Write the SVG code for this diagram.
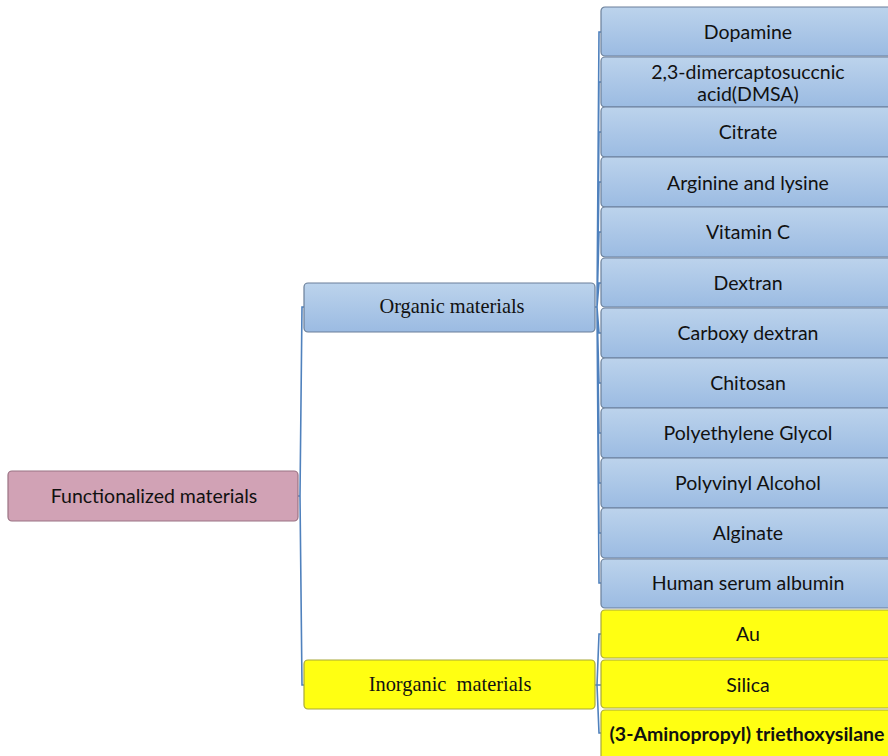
<svg xmlns="http://www.w3.org/2000/svg" width="888" height="756" viewBox="0 0 888 756">
<defs>
<linearGradient id="blue" x1="0" y1="0" x2="0" y2="1">
<stop offset="0" stop-color="#bcd3ec"/>
<stop offset="1" stop-color="#9bbbe2"/>
</linearGradient>
<style>
.b{fill:url(#blue);stroke:#6a7f99;stroke-width:1.2}
.y{fill:#ffff12;stroke:#a8a83a;stroke-width:1.2}
.r{fill:#d1a2b5;stroke:#9a7283;stroke-width:1.2}
.t{font-family:Lato,"Open Sans","Liberation Sans",sans-serif;font-size:19.5px;fill:#111;text-anchor:middle;dominant-baseline:central}
.s{font-family:"Liberation Serif","Times New Roman",serif;font-size:20.4px;fill:#111;text-anchor:middle;dominant-baseline:central}
.c{fill:none;stroke:#4f81bd;stroke-width:1.6}
</style>
</defs>
<g id="connectors">
<path class="c" d="M298,496 L300,496 L302,307 L304,307 M300,496 L302,685 L304,685"/>
<path class="c" d="M595,307 L597,307 L599,32 L601,32 M597,307 L599,82 L601,82 M597,307 L599,132 L601,132 M597,307 L599,182 L601,182 M597,307 L599,232 L601,232 M597,307 L599,283 L601,283 M597,307 L599,333 L601,333 M597,307 L599,383 L601,383 M597,307 L599,433 L601,433 M597,307 L599,483 L601,483 M597,307 L599,533 L601,533 M597,307 L599,583 L601,583"/>
<path class="c" d="M595,685 L597,685 L599,634 L601,634 M597,685 L601,685 M597,685 L599,733 L601,733"/>
</g>
<g id="root"><rect class="r" x="8" y="471" width="290" height="50" rx="4"/><text class="t" x="154" y="495">Functionalized materials</text></g>
<g id="organic"><rect class="b" x="304" y="283" width="291" height="49" rx="4"/><text class="s" x="452" y="306">Organic materials</text></g>
<g id="inorganic"><rect class="y" x="304" y="660" width="291" height="49" rx="4"/><text class="s" x="450" y="684" xml:space="preserve">Inorganic  materials</text></g>
<g id="dopamine"><rect class="b" x="601" y="7" width="292" height="49" rx="4"/><text class="t" x="748" y="31">Dopamine</text></g>
<g id="dmsa"><rect class="b" x="601" y="57" width="292" height="50" rx="4"/><text class="t" x="748" y="71">2,3-dimercaptosuccnic</text><text class="t" x="748" y="93">acid(DMSA)</text></g>
<g id="citrate"><rect class="b" x="601" y="107" width="292" height="50" rx="4"/><text class="t" x="748" y="131">Citrate</text></g>
<g id="arginine"><rect class="b" x="601" y="157" width="292" height="50" rx="4"/><text class="t" x="748" y="182">Arginine and lysine</text></g>
<g id="vitaminc"><rect class="b" x="601" y="207" width="292" height="50" rx="4"/><text class="t" x="748" y="231">Vitamin C</text></g>
<g id="dextran"><rect class="b" x="601" y="258" width="292" height="49" rx="4"/><text class="t" x="748" y="282">Dextran</text></g>
<g id="carboxy"><rect class="b" x="601" y="308" width="292" height="50" rx="4"/><text class="t" x="748" y="332">Carboxy dextran</text></g>
<g id="chitosan"><rect class="b" x="601" y="358" width="292" height="50" rx="4"/><text class="t" x="748" y="382">Chitosan</text></g>
<g id="peg"><rect class="b" x="601" y="408" width="292" height="50" rx="4"/><text class="t" x="748" y="432">Polyethylene Glycol</text></g>
<g id="pva"><rect class="b" x="601" y="458" width="292" height="50" rx="4"/><text class="t" x="748" y="482">Polyvinyl Alcohol</text></g>
<g id="alginate"><rect class="b" x="601" y="508" width="292" height="50" rx="4"/><text class="t" x="748" y="532">Alginate</text></g>
<g id="hsa"><rect class="b" x="601" y="559" width="292" height="49" rx="4"/><text class="t" x="748" y="582">Human serum albumin</text></g>
<g id="au"><rect class="y" x="601" y="610" width="292" height="48" rx="4"/><text class="t" x="748" y="633">Au</text></g>
<g id="silica"><rect class="y" x="601" y="660" width="292" height="48" rx="4"/><text class="t" x="748" y="684">Silica</text></g>
<g id="aptes"><rect class="y" x="601" y="710" width="292" height="60" rx="4"/><text class="t" x="747" y="733" style="font-weight:bold">(3-Aminopropyl) triethoxysilane</text></g>
</svg>
